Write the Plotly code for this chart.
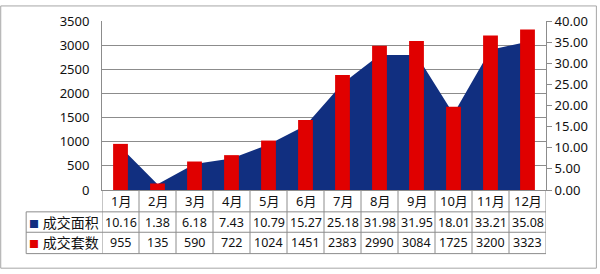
import plotly.graph_objects as go

months = ["1月", "2月", "3月", "4月", "5月", "6月", "7月", "8月", "9月", "10月", "11月", "12月"]
area_name = "成交面积"
count_name = "成交套数"
area_vals = [10.16, 1.38, 6.18, 7.43, 10.79, 15.27, 25.18, 31.98, 31.95, 18.01, 33.21, 35.08]
count_vals = [955, 135, 590, 722, 1024, 1451, 2383, 2990, 3084, 1725, 3200, 3323]
left_ticks = [0, 500, 1000, 1500, 2000, 2500, 3000, 3500]
right_ticks = [0, 5, 10, 15, 20, 25, 30, 35, 40]

BLUE = "#112F80"
RED = "#E00000"
GRID = "#8C8C8C"
FONT = "Noto Sans, Noto Sans CJK SC, sans-serif"

W, H = 600, 274
L, R, T, B = 102, 53, 16, 84
pw, ph = W - L - R, H - T - B


def px(X):
    return (X - L) / pw


def py(Y):
    return (T + ph - Y) / ph


fig = go.Figure()
fig.add_trace(go.Scatter(
    x=months, y=area_vals, name=area_name, mode="lines",
    fill="tozeroy", fillcolor=BLUE, line=dict(color=BLUE, width=0),
    yaxis="y", showlegend=False))
fig.add_trace(go.Bar(
    x=months, y=count_vals, name=count_name, marker=dict(color=RED, line=dict(width=0)),
    yaxis="y2", showlegend=False))

fig.update_layout(
    width=W, height=H,
    margin=dict(l=L, r=R, t=T, b=B),
    paper_bgcolor="white", plot_bgcolor="white",
    font=dict(family=FONT, size=12, color="#111111"),
    bargap=0.6,
    xaxis=dict(type="category", showticklabels=False, showgrid=False,
               showline=True, linecolor=GRID, linewidth=1, ticks="",
               range=[-0.5, 11.5], fixedrange=True),
    yaxis=dict(side="right", range=[0, 40], tickvals=right_ticks,
               tickformat=".2f", showgrid=False, zeroline=False,
               showline=True, linecolor=GRID, linewidth=1,
               ticks="outside", ticklen=5, tickcolor=GRID,
               tickfont=dict(size=13)),
    yaxis2=dict(side="left", overlaying="y", range=[0, 3500], tickvals=left_ticks,
                showgrid=True, gridcolor=GRID, gridwidth=1, zeroline=False,
                showline=True, linecolor=GRID, linewidth=1, ticks="",
                ticklabelstandoff=9, tickfont=dict(size=13)),
)

row_lines = [212.5, 233.5, 255.5]
leg_left = 26
table_right = L + pw
shapes = []
for Y in row_lines:
    shapes.append(dict(type="line", xref="paper", yref="paper",
                       x0=px(leg_left), x1=px(table_right), y0=py(Y), y1=py(Y),
                       line=dict(color=GRID, width=1)))
for i in range(len(months) + 1):
    shapes.append(dict(type="line", xref="x", yref="paper",
                       x0=i - 0.5, x1=i - 0.5, y0=0, y1=py(row_lines[-1]),
                       line=dict(color=GRID, width=1)))
shapes.append(dict(type="line", xref="paper", yref="paper",
                   x0=px(leg_left), x1=px(leg_left), y0=py(row_lines[0]), y1=py(row_lines[-1]),
                   line=dict(color=GRID, width=1)))
shapes.append(dict(type="rect", xref="paper", yref="paper",
                   x0=px(0.5), x1=px(597.5), y0=py(270.5), y1=py(0.5),
                   line=dict(color="#A6A6A6", width=1)))
fig.update_layout(shapes=shapes)

ann = []
month_y = py(201.5)
r1_y = py(223)
r2_y = py(244.5)
for m, a, c in zip(months, area_vals, count_vals):
    ann.append(dict(x=m, xref="x", y=month_y, yref="paper", text=m, showarrow=False,
                    font=dict(size=13), xanchor="center", yanchor="middle"))
    ann.append(dict(x=m, xref="x", y=r1_y, yref="paper", text=f"{a:.2f}", showarrow=False,
                    font=dict(size=12.5), xanchor="center", yanchor="middle"))
    ann.append(dict(x=m, xref="x", y=r2_y, yref="paper", text=str(c), showarrow=False,
                    font=dict(size=12.5), xanchor="center", yanchor="middle"))
leg_x = px((leg_left + L) / 2)
ann.append(dict(x=leg_x, xref="paper", y=r1_y, yref="paper",
                text=f"<span style='color:{BLUE};font-size:10px'>■</span> {area_name}", showarrow=False,
                font=dict(size=14), xanchor="center", yanchor="middle"))
ann.append(dict(x=leg_x, xref="paper", y=r2_y, yref="paper",
                text=f"<span style='color:{RED};font-size:10px'>■</span> {count_name}", showarrow=False,
                font=dict(size=14), xanchor="center", yanchor="middle"))
fig.update_layout(annotations=ann)

fig.write_html("out.html")
